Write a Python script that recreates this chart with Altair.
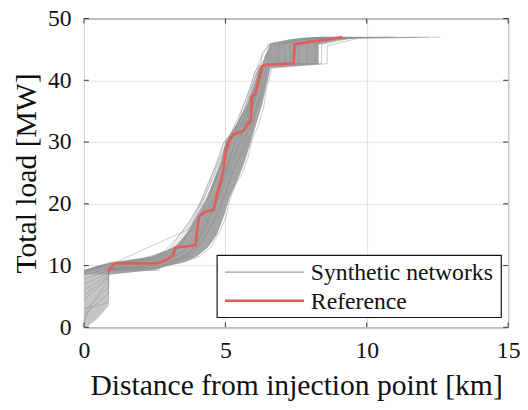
import altair as alt
import pandas as pd

# ---------------- data ----------------
ref_x = [0.85, 1.08, 2.59, 2.97, 3.17, 3.22, 3.95, 3.99, 4.07, 4.30, 4.59, 4.71, 4.83, 4.94,
         5.00, 5.12, 5.29, 5.64, 5.76, 5.90, 5.93, 6.07, 6.16, 6.28, 6.40, 7.41, 7.45, 7.97, 8.66, 9.13]
ref_y = [9.0, 10.36, 10.36, 11.05, 11.85, 12.9, 13.3, 15.3, 17.96, 18.76, 19.0, 21.7, 23.5, 25.7,
         28.05, 30.2, 31.2, 31.8, 32.8, 33.4, 37.35, 37.9, 39.7, 42.2, 42.5, 42.7, 45.85, 46.2, 46.65, 47.0]

syn01 = [(0, 9.2), (0.5, 9.9), (0.9, 10.5), (2.0, 11.0), (2.8, 12.2), (3.3, 14.5), (3.8, 17.5), (4.2, 21),
         (4.6, 25.5), (4.9, 29.5), (5.2, 31.5), (5.5, 34.5), (5.75, 37), (6.0, 40.5), (6.15, 42.5),
         (6.45, 45.2), (6.65, 46), (7.6, 46.8), (8.4, 47)]
syn02 = [(0, 8.5), (0.87, 9.6), (0.87, 10.0), (1.8, 10.6), (2.6, 11.4), (3.1, 12.8), (3.5, 15.0), (3.9, 18.0),
         (4.3, 21.5), (4.6, 24.5), (4.9, 28.0), (5.1, 30.5), (5.4, 32.5), (5.7, 35.5), (5.9, 38.5), (6.2, 42.3),
         (6.5, 42.6), (6.5, 45.8), (7.3, 46.5), (8.0, 46.9), (9.5, 47)]
syn03 = [(0, 7.0), (0.87, 8.8), (0.87, 9.6), (2.2, 10.3), (2.9, 11.3), (3.4, 13.2), (3.8, 15.8), (4.2, 19.0),
         (4.5, 22.0), (4.8, 25.5), (5.0, 29.0), (5.3, 31.0), (5.6, 33.5), (5.85, 36.0), (6.0, 39.0), (6.3, 42.4),
         (6.8, 42.6), (6.8, 45.9), (7.5, 46.6), (8.8, 47)]
syn04 = [(0, 6.0), (0.87, 8.5), (0.87, 9.4), (2.4, 10.0), (3.0, 11.0), (3.6, 12.5), (4.0, 15.0), (4.35, 18.5),
         (4.6, 21.0), (4.9, 24.0), (5.15, 27.5), (5.4, 30.5), (5.7, 32.5), (5.95, 35.5), (6.1, 38.5), (6.35, 42.5),
         (7.1, 42.6), (7.1, 46.0), (8.0, 46.7), (10.2, 47)]
syn05 = [(0, 4.5), (0.87, 8.0), (0.87, 9.3), (2.6, 9.6), (3.2, 10.4), (3.8, 11.8), (4.2, 14.0), (4.5, 16.5),
         (4.8, 19.5), (5.05, 22.5), (5.3, 25.5), (5.55, 28.5), (5.75, 31.0), (5.95, 33.5), (6.15, 36.5),
         (6.35, 40.5), (6.5, 42.5), (7.6, 42.7), (7.6, 46.0), (8.5, 46.8), (11.0, 47)]
syn06 = [(0, 3.0), (0.87, 4.0), (0.87, 9.2), (2.65, 9.2), (2.65, 9.8), (3.5, 10.5), (4.1, 11.5), (4.5, 13.0),
         (4.8, 15.5), (5.0, 17.5), (5.15, 20.5), (5.35, 23.0), (5.6, 25.0), (5.8, 27.5), (5.95, 30.5),
         (6.15, 32.5), (6.35, 35.5), (6.45, 38.5), (6.65, 42.0), (8.6, 42.7), (8.6, 45.6), (9.7, 46.8), (12.6, 47)]
syn07 = [(0, 8.8), (0.6, 9.8), (0.9, 10.4), (1.6, 10.7), (2.4, 11.2), (3.0, 12.5), (3.4, 15.0), (3.7, 17.0),
         (4.1, 20.0), (4.4, 23.5), (4.75, 27.0), (4.95, 30.0), (5.35, 32.0), (5.6, 35.5), (5.85, 38.5),
         (6.05, 41.5), (6.25, 42.5), (6.3, 44.5), (6.6, 45.9), (8.2, 46.9), (9.0, 47)]
syn08 = [(0, 2.0), (0.87, 5.5), (0.87, 9.3), (2.3, 9.9), (3.1, 10.8), (3.7, 12.0), (4.1, 14.5), (4.4, 17.5),
         (4.7, 20.5), (4.95, 24.0), (5.2, 27.0), (5.45, 29.5), (5.65, 32.0), (5.85, 34.0), (6.05, 37.0),
         (6.25, 40.0), (6.4, 42.5), (7.9, 42.7), (7.9, 46.1), (9.0, 46.9), (10.8, 47)]
syn09 = [(0, 0.0), (0.1, 3.0), (0.87, 6.5), (0.87, 9.4), (2.0, 10.0), (2.9, 10.9), (3.5, 12.2), (4.0, 14.0),
         (4.3, 17.0), (4.6, 20.0), (4.85, 23.0), (5.1, 26.5), (5.3, 29.5), (5.6, 31.5), (5.8, 34.5), (6.0, 37.5),
         (6.2, 41.5), (6.4, 42.6), (7.3, 42.6), (7.3, 45.8), (8.2, 46.7), (9.8, 47)]
syn10 = [(0, 7.8), (0.87, 9.2), (0.87, 9.8), (1.9, 10.4), (2.7, 11.1), (3.3, 12.7), (3.7, 15.5), (4.05, 18.5),
         (4.45, 21.5), (4.7, 24.5), (5.0, 27.5), (5.2, 30.0), (5.5, 32.0), (5.75, 34.0), (5.95, 37.5),
         (6.2, 41.0), (6.35, 42.5), (6.9, 42.6), (6.9, 45.9), (7.8, 46.7), (9.3, 47)]
syn11 = [(0, 5.2), (0.87, 8.2), (0.87, 9.5), (2.5, 9.8), (3.2, 10.6), (3.75, 12.3), (4.2, 15.0), (4.5, 18.0),
         (4.75, 21.0), (5.0, 23.5), (5.25, 26.5), (5.5, 29.5), (5.7, 31.0), (5.9, 34.5), (6.1, 38.0),
         (6.3, 41.5), (6.45, 42.5), (8.2, 42.7), (8.2, 46.0), (9.2, 46.9), (11.8, 47)]
syn12 = [(0, 8.9), (0.9, 10.3), (1.1, 10.5), (3.66, 15.8), (3.9, 17.5), (4.3, 21.5), (4.6, 25.0), (4.9, 28.5),
         (5.2, 31.0), (5.5, 33.5), (5.8, 37.0), (6.1, 41.0), (6.3, 42.5), (6.6, 42.6), (6.6, 45.9), (7.5, 46.7),
         (8.6, 47)]
syn13 = [(0, 9.0), (0.8, 10.2), (1.4, 10.5), (2.2, 10.9), (2.9, 11.7), (3.35, 13.5), (3.8, 16.5), (4.15, 19.5),
         (4.55, 23.0), (4.85, 26.0), (5.05, 29.0), (5.3, 31.5), (5.6, 33.0), (5.8, 36.0), (6.0, 39.5),
         (6.2, 42.5), (6.45, 43.5), (6.6, 45.9), (7.2, 46.5), (8.5, 47)]
syn14 = [(0, 1.0), (0.3, 4.0), (0.87, 7.5), (0.87, 9.3), (2.5, 9.5), (2.9, 10.2), (3.6, 11.5), (4.1, 13.5),
         (4.45, 16.0), (4.75, 18.5), (5.0, 21.5), (5.2, 24.5), (5.45, 27.0), (5.7, 29.0), (5.9, 31.5),
         (6.05, 34.5), (6.3, 38.0), (6.5, 41.5), (6.6, 42.6), (8.4, 42.7), (8.4, 45.8), (9.4, 46.8), (12.2, 47)]
SYN = [syn01, syn02, syn03, syn04, syn05, syn06, syn07, syn08, syn09, syn10, syn11, syn12, syn13, syn14]

# dense core of the synthetic bundle (left / right edge at each load level)
core_y = [8.5, 9.3, 10.0, 10.6, 11.5, 13, 15, 18, 21, 24, 27, 30, 33, 36, 39, 42, 42.6, 44, 45.8, 46.5, 47]
core_xl = [0.0, 0.0, 0.5, 1.2, 2.4, 3.2, 3.6, 4.0, 4.35, 4.6, 4.85, 5.0, 5.4, 5.75, 6.0, 6.2, 6.3, 6.4, 6.6, 7.4, 8.6]
core_xr = [0.87, 2.5, 3.0, 3.6, 4.0, 4.4, 4.7, 4.95, 5.15, 5.45, 5.7, 5.9, 6.1, 6.3, 6.45, 6.6, 8.3, 8.3, 8.3, 9.0, 10.0]
# lower-left fan of starting points
fan_y = [0, 1.5, 3.5, 6, 8.5]
fan_xr = [0.1, 0.5, 0.87, 0.87, 0.87]

x_ticks = [0, 5, 10, 15]
y_ticks = [0, 10, 20, 30, 40, 50]
series_names = ["Synthetic networks", "Reference"]
series_colors = ["#8a8a8a", "#e35b5b"]

# ---------------- tables ----------------
rows = []
for k, pts in enumerate(SYN):
    for i, (x, y) in enumerate(pts):
        rows.append({"curve": k, "i": i, "x": x, "y": y, "series": series_names[0]})
syn_df = pd.DataFrame(rows)
ref_df = pd.DataFrame({"x": ref_x, "y": ref_y, "i": range(len(ref_x)), "series": series_names[1]})
core_df = pd.DataFrame({"y": core_y, "xl": core_xl, "xr": core_xr})
fan_df = pd.DataFrame({"y": fan_y, "xl": [0] * len(fan_y), "xr": fan_xr})
xt_df = pd.DataFrame({"x": x_ticks})
yt_df = pd.DataFrame({"y": y_ticks})
lab0_df = pd.DataFrame({"label": [series_names[0]]})
lab1_df = pd.DataFrame({"label": [series_names[1]]})

W, H = 430, 313
FONT = "Liberation Serif"
xs = alt.Scale(domain=[0, 15], nice=False)
ys = alt.Scale(domain=[0, 50], nice=False)
xaxis = alt.Axis(values=x_ticks, title="Distance from injection point [km]", grid=True, ticks=False,
                 domain=False, labelPadding=12, titlePadding=8, labelOverlap=False, labelFlush=False)
yaxis = alt.Axis(values=y_ticks, title="Total load [MW]", grid=True, ticks=False, domain=False,
                 labelPadding=13, titlePadding=6, labelOverlap=False, labelFlush=False)

color_enc = alt.Color("series:N", scale=alt.Scale(domain=series_names, range=series_colors), legend=None)
sw_enc = alt.StrokeWidth("series:N", scale=alt.Scale(domain=series_names, range=[1, 2.6]), legend=None)
op_enc = alt.Opacity("series:N", scale=alt.Scale(domain=series_names, range=[0.45, 1]), legend=None)

fan = alt.Chart(fan_df).mark_area(orient="horizontal", color="#c6c6c6").encode(
    y=alt.Y("y:Q", scale=ys, axis=yaxis), x=alt.X("xl:Q", scale=xs, axis=xaxis), x2="xr:Q")
core = alt.Chart(core_df).mark_area(orient="horizontal", color="#a4a4a4").encode(
    y=alt.Y("y:Q", scale=ys, axis=yaxis), x=alt.X("xl:Q", scale=xs, axis=xaxis), x2="xr:Q")
syn = alt.Chart(syn_df).mark_line().encode(
    x=alt.X("x:Q", scale=xs, axis=xaxis), y=alt.Y("y:Q", scale=ys, axis=yaxis),
    detail="curve:N", order="i:Q", color=color_enc, strokeWidth=sw_enc, opacity=op_enc)
ref = alt.Chart(ref_df).mark_line().encode(
    x=alt.X("x:Q", scale=xs, axis=xaxis), y=alt.Y("y:Q", scale=ys, axis=yaxis),
    order="i:Q", color=color_enc, strokeWidth=sw_enc, opacity=op_enc)

tick_col = "#333333"
xt_bot = alt.Chart(xt_df).mark_rule(color=tick_col).encode(
    x=alt.X("x:Q", scale=xs, axis=xaxis), y=alt.value(H), y2=alt.value(H - 5))
xt_top = alt.Chart(xt_df).mark_rule(color=tick_col).encode(
    x=alt.X("x:Q", scale=xs, axis=xaxis), y=alt.value(0), y2=alt.value(5))
yt_l = alt.Chart(yt_df).mark_rule(color=tick_col).encode(
    y=alt.Y("y:Q", scale=ys, axis=yaxis), x=alt.value(0), x2=alt.value(5))
yt_r = alt.Chart(yt_df).mark_rule(color=tick_col).encode(
    y=alt.Y("y:Q", scale=ys, axis=yaxis), x=alt.value(W - 5), x2=alt.value(W))

# legend box (drawn by hand so that the long line keys fit a compact box)
LX0, LX1, LY0, LY1 = 135, 423, 240, 303
leg_box = alt.Chart(lab0_df).mark_rect(fill="white", stroke="#111111", strokeWidth=1.2).encode(
    x=alt.value(LX0), x2=alt.value(LX1), y=alt.value(LY0), y2=alt.value(LY1))
leg_k0 = alt.Chart(lab0_df).mark_rule(color=series_colors[0], strokeWidth=1.2, opacity=0.8).encode(
    x=alt.value(LX0 + 8), x2=alt.value(LX0 + 88), y=alt.value(LY0 + 17))
leg_k1 = alt.Chart(lab1_df).mark_rule(color=series_colors[1], strokeWidth=2.6).encode(
    x=alt.value(LX0 + 8), x2=alt.value(LX0 + 88), y=alt.value(LY0 + 46))
leg_t0 = alt.Chart(lab0_df).mark_text(align="left", baseline="middle", font=FONT, fontSize=24,
                                      color="#111111").encode(
    x=alt.value(LX0 + 95), y=alt.value(LY0 + 18), text="label:N")
leg_t1 = alt.Chart(lab1_df).mark_text(align="left", baseline="middle", font=FONT, fontSize=24,
                                      color="#111111").encode(
    x=alt.value(LX0 + 95), y=alt.value(LY0 + 47), text="label:N")

chart = alt.layer(fan, core, syn, ref, xt_bot, xt_top, yt_l, yt_r,
                  leg_box, leg_k0, leg_k1, leg_t0, leg_t1).properties(
    width=W, height=H,
    autosize=alt.AutoSizeParams(type="none"),
    padding={"left": 77, "top": 8, "right": 12, "bottom": 74},
).configure_view(stroke="#333333", strokeWidth=1).configure_axis(
    labelFont=FONT, labelFontSize=24, labelColor="#111111",
    titleFont=FONT, titleFontSize=30, titleFontWeight="normal", titleColor="#111111",
    gridColor="#e2e2e2", gridWidth=1,
)

chart.save("out.html", embed_options={"renderer": "svg", "actions": False})
